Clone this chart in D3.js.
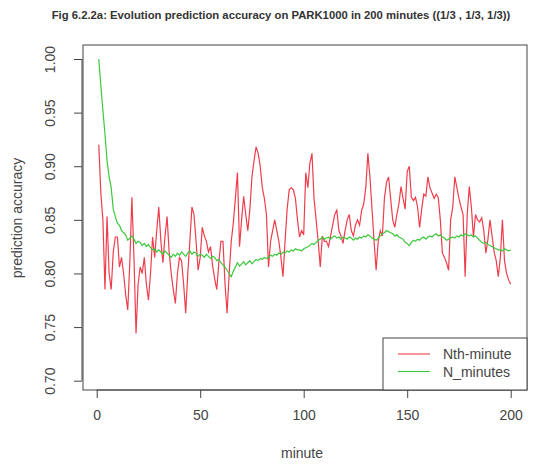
<!DOCTYPE html>
<html>
<head>
<meta charset="utf-8">
<script src="https://cdn.jsdelivr.net/npm/d3@7"></script>
<style>
  body { margin: 0; background: #fff; }
  svg { display: block; font-family: 'Liberation Sans', Arial, sans-serif; }
  .tick-label { font-size: 14px; fill: #444; }
</style>
</head>
<body>
<svg id="chart"></svg>
<script>
const title = 'Fig 6.2.2a: Evolution prediction accuracy on PARK1000 in 200 minutes ((1/3 , 1/3, 1/3))'
const xTicks = [0, 50, 100, 150, 200]
const yTicks = [0.70, 0.75, 0.80, 0.85, 0.90, 0.95, 1.00]
const seriesNames = ['Nth-minute', 'N_minutes']

// Nth-minute, minute 1..200
const nthMinute = [
	0.920, 0.875, 0.850, 0.785, 0.853, 0.800, 0.785, 0.820, 0.834, 0.834,
	0.806, 0.815, 0.800, 0.780, 0.766, 0.810, 0.871, 0.815, 0.744, 0.790,
	0.806, 0.800, 0.815, 0.790, 0.775, 0.800, 0.834, 0.815, 0.840, 0.862,
	0.830, 0.810, 0.835, 0.853, 0.820, 0.800, 0.785, 0.772, 0.800, 0.815,
	0.812, 0.790, 0.763, 0.800, 0.830, 0.862, 0.855, 0.830, 0.803, 0.815,
	0.843, 0.835, 0.830, 0.820, 0.825, 0.807, 0.795, 0.785, 0.810, 0.830,
	0.830, 0.790, 0.763, 0.800, 0.830, 0.847, 0.870, 0.894, 0.825, 0.850,
	0.872, 0.855, 0.840, 0.860, 0.890, 0.905, 0.918, 0.912, 0.900, 0.880,
	0.870, 0.855, 0.806, 0.830, 0.840, 0.850, 0.840, 0.830, 0.815, 0.797,
	0.830, 0.860, 0.878, 0.880, 0.878, 0.870, 0.850, 0.834, 0.840, 0.836,
	0.894, 0.880, 0.903, 0.912, 0.870, 0.850, 0.830, 0.806, 0.835, 0.830,
	0.830, 0.825, 0.835, 0.845, 0.855, 0.859, 0.840, 0.835, 0.828, 0.840,
	0.850, 0.855, 0.840, 0.835, 0.845, 0.850, 0.845, 0.859, 0.865, 0.880,
	0.912, 0.890, 0.860, 0.830, 0.803, 0.830, 0.840, 0.835, 0.870, 0.885,
	0.890, 0.870, 0.850, 0.843, 0.855, 0.865, 0.881, 0.870, 0.860, 0.895,
	0.900, 0.871, 0.868, 0.871, 0.862, 0.843, 0.860, 0.874, 0.872, 0.890,
	0.880, 0.875, 0.870, 0.874, 0.871, 0.850, 0.819, 0.815, 0.810, 0.803,
	0.850, 0.862, 0.890, 0.880, 0.870, 0.862, 0.855, 0.797, 0.855, 0.881,
	0.862, 0.834, 0.855, 0.850, 0.848, 0.852, 0.840, 0.819, 0.832, 0.850,
	0.835, 0.820, 0.812, 0.797, 0.815, 0.850, 0.812, 0.800, 0.794, 0.790
]

// N_minutes, minute 1..200
const nMinutes = [
	1.000, 0.975, 0.952, 0.930, 0.905, 0.890, 0.880, 0.860, 0.853, 0.847,
	0.845, 0.840, 0.838, 0.836, 0.831, 0.833, 0.835, 0.832, 0.828, 0.830,
	0.829, 0.826, 0.828, 0.825, 0.827, 0.824, 0.822, 0.823, 0.820, 0.822,
	0.820, 0.818, 0.821, 0.819, 0.817, 0.815, 0.818, 0.816, 0.819, 0.817,
	0.820, 0.818, 0.816, 0.819, 0.821, 0.818, 0.820, 0.819, 0.816, 0.818,
	0.817, 0.815, 0.818, 0.816, 0.814, 0.816, 0.815, 0.812, 0.813, 0.810,
	0.808, 0.806, 0.803, 0.800, 0.797, 0.802, 0.806, 0.810, 0.807, 0.809,
	0.811, 0.808, 0.810, 0.812, 0.809, 0.811, 0.813, 0.812, 0.814, 0.813,
	0.815, 0.814, 0.815, 0.817, 0.816, 0.818, 0.817, 0.819, 0.818, 0.820,
	0.819, 0.821, 0.820, 0.822, 0.821, 0.823, 0.822, 0.822, 0.821, 0.823,
	0.824, 0.825, 0.826, 0.828, 0.827, 0.829, 0.831, 0.832, 0.834, 0.832,
	0.833, 0.834, 0.832, 0.834, 0.835, 0.833, 0.834, 0.832, 0.834, 0.833,
	0.832, 0.834, 0.833, 0.831, 0.833, 0.832, 0.834, 0.833, 0.835, 0.834,
	0.836, 0.835, 0.833, 0.832, 0.831, 0.833, 0.835, 0.837, 0.838, 0.840,
	0.839, 0.838, 0.837, 0.835, 0.836, 0.834, 0.833, 0.832, 0.829, 0.828,
	0.826, 0.829, 0.831, 0.830, 0.832, 0.831, 0.833, 0.834, 0.832, 0.834,
	0.835, 0.834, 0.836, 0.837, 0.835, 0.836, 0.834, 0.833, 0.831, 0.832,
	0.833, 0.834, 0.833, 0.835, 0.834, 0.836, 0.835, 0.837, 0.836, 0.835,
	0.836, 0.834, 0.835, 0.833, 0.831, 0.829, 0.828, 0.829, 0.827, 0.826,
	0.825, 0.824, 0.823, 0.822, 0.822, 0.821, 0.823, 0.822, 0.821, 0.822
]

const colors = ['#ee3e4c', '#3cc83c']

let w = 548, h = 465
let box = { left: 83, right: 527, top: 45, bottom: 390 }

let svg = d3.select('#chart').attr('width', w).attr('height', h)

let x = d3.scaleLinear().domain([0, 200]).range([96.7, 510.7])
let y = d3.scaleLinear().domain([0.70, 1.00]).range([380.7, 59])

svg.append('text')
	.attr('x', 281).attr('y', 19)
	.attr('text-anchor', 'middle')
	.style('font-size', '11.3px').style('font-weight', 'bold').style('fill', '#333')
	.text(title)

// data lines
let line = d3.line().x((d, i) => x(i + 1)).y(d => y(d))
;[nthMinute, nMinutes].forEach((s, k) => {
	svg.append('path')
		.datum(s)
		.attr('d', line)
		.attr('fill', 'none')
		.attr('stroke', colors[k])
		.attr('stroke-width', 1.2)
})

// plot frame
svg.append('rect')
	.attr('x', box.left).attr('y', box.top)
	.attr('width', box.right - box.left).attr('height', box.bottom - box.top)
	.attr('fill', 'none').attr('stroke', '#444')

// x axis
let xAxis = svg.append('g').attr('transform', `translate(0, ${box.bottom})`)
	.call(d3.axisBottom(x).tickValues(xTicks).tickSize(8).tickPadding(12).tickFormat(d3.format('d')))
xAxis.attr('font-family', null).attr('font-size', null)
xAxis.select('.domain').attr('d', `M${x(0)},0H${x(200)}`).attr('stroke', '#444')
xAxis.selectAll('line').attr('stroke', '#444')
xAxis.selectAll('text').attr('class', 'tick-label')

// y axis
let yAxis = svg.append('g').attr('transform', `translate(${box.left - 1}, 0)`)
	.call(d3.axisLeft(y).tickValues(yTicks).tickSize(8).tickFormat(d3.format('.2f')))
yAxis.attr('font-family', null).attr('font-size', null)
yAxis.select('.domain').attr('d', `M0,${y(0.70)}V${y(1.00)}`).attr('stroke', '#444')
yAxis.selectAll('line').attr('stroke', '#444')
yAxis.selectAll('text')
	.attr('class', 'tick-label')
	.attr('x', null).attr('dy', null)
	.attr('text-anchor', 'middle')
	.attr('transform', 'translate(-27, 0) rotate(-90)')

svg.append('text')
	.attr('x', 302).attr('y', 458)
	.attr('text-anchor', 'middle')
	.attr('class', 'tick-label')
	.text('minute')

svg.append('text')
	.attr('transform', 'translate(22, 218) rotate(-90)')
	.attr('text-anchor', 'middle')
	.attr('class', 'tick-label')
	.text('prediction accuracy')

// legend
let lg = svg.append('g')
lg.append('rect')
	.attr('x', 383).attr('y', 338)
	.attr('width', box.right - 383).attr('height', box.bottom - 338)
	.attr('fill', '#fff').attr('stroke', '#444')
seriesNames.forEach((name, i) => {
	let ly = 354 + i * 17.5
	lg.append('line')
		.attr('x1', 398).attr('x2', 430).attr('y1', ly).attr('y2', ly)
		.attr('stroke', colors[i]).attr('stroke-width', 1.1)
	lg.append('text')
		.attr('x', 443).attr('y', ly + 5)
		.attr('class', 'tick-label')
		.text(name)
})
</script>
</body>
</html>
